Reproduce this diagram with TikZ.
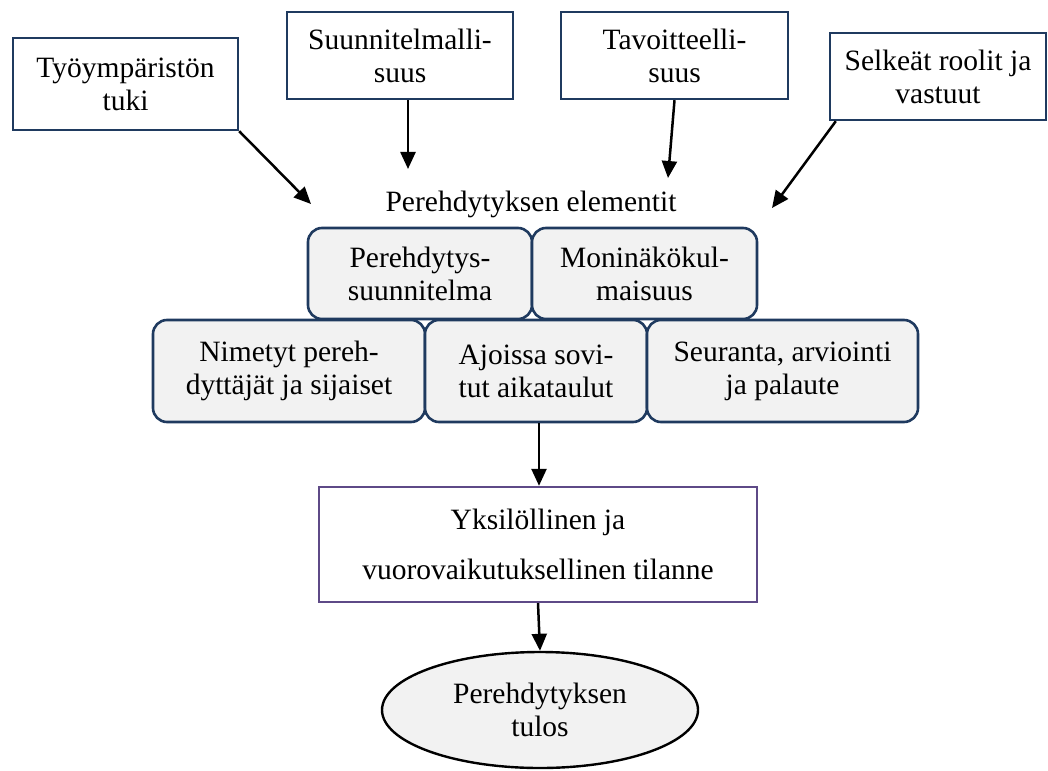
\documentclass[tikz,border=0pt]{standalone}
\usepackage{fontspec}
\setmainfont{Liberation Serif}
\usetikzlibrary{arrows.meta,shapes.geometric,calc}
\definecolor{navy}{HTML}{1F3A5F}
\definecolor{purp}{HTML}{5E4A87}
\definecolor{boxfill}{HTML}{F2F2F2}
\begin{document}
\begin{tikzpicture}[x=1pt,y=-1pt,
  every node/.style={font=\fontsize{29.5}{33}\selectfont, align=center, inner sep=0pt},
  topbox/.style={draw=navy, line width=2.4pt, fill=white, rectangle},
  elem/.style={draw=navy, line width=2.6pt, fill=boxfill, rounded corners=14pt, rectangle},
  arr/.style={line width=2.5pt, -{Triangle[length=17pt,width=15pt]}}]
\useasboundingbox (0,0) rectangle (1048,770);

% top factor boxes
\node[topbox, minimum width=225, minimum height=92] (tyo) at (125.5,84) {Työympäristön\\tuki};
\node[topbox, minimum width=226, minimum height=87] (suun) at (400,55.5) {Suunnitelmalli-\\suus};
\node[topbox, minimum width=227, minimum height=87] (tav) at (674.5,55.5) {Tavoitteelli-\\suus};
\node[topbox, minimum width=216, minimum height=87] (selk) at (938,76.5) {Selkeät roolit ja\\vastuut};

% heading
\node[anchor=base] (head) at (531,211) {Perehdytyksen elementit};

% arrow targets
\coordinate (t1) at (311,204);
\coordinate (t2) at (408,169);
\coordinate (t3) at (668,178);
\coordinate (t4) at (772,208);

% element boxes
\node[elem, minimum width=224, minimum height=91] (per) at (420,273.5) {Perehdytys-\\suunnitelma};
\node[elem, minimum width=225, minimum height=91] (mon) at (644.5,273.5) {Moninäkökul-\\maisuus};
\node[elem, minimum width=272, minimum height=102] (nim) at (289,371) {Nimetyt pereh-\\dyttäjät ja sijaiset};
\node[elem, minimum width=222, minimum height=102] (ajo) at (536,371) {Ajoissa sovi-\\tut aikataulut};
\node[elem, minimum width=271, minimum height=102] (seu) at (782.5,371) {Seuranta, arviointi\\ja palaute};

% situation box
\node[draw=purp, line width=2.4pt, fill=white, minimum width=438, minimum height=115] (yks) at (538,544.5)
  {Yksilöllinen ja\\[17pt]vuorovaikutuksellinen tilanne};

% result ellipse
\node[ellipse, draw=black, line width=2.4pt, fill=boxfill, minimum width=316, minimum height=116] (tulos) at (540,710)
  {Perehdytyksen\\tulos};

% connectors
\draw[arr] (tyo.south east) -- (t1);
\draw[arr] (suun.south -| t2) -- (t2);
\draw[arr] (tav.south) -- (t3);
\draw[arr] ($(selk.south west)+(7,0)$) -- (t4);
\draw[arr] ($(ajo.south)+(3,0)$) -- ($(yks.north)+(1,0)$);
\draw[arr] (yks.south) -- (tulos.north);
\end{tikzpicture}
\end{document}
